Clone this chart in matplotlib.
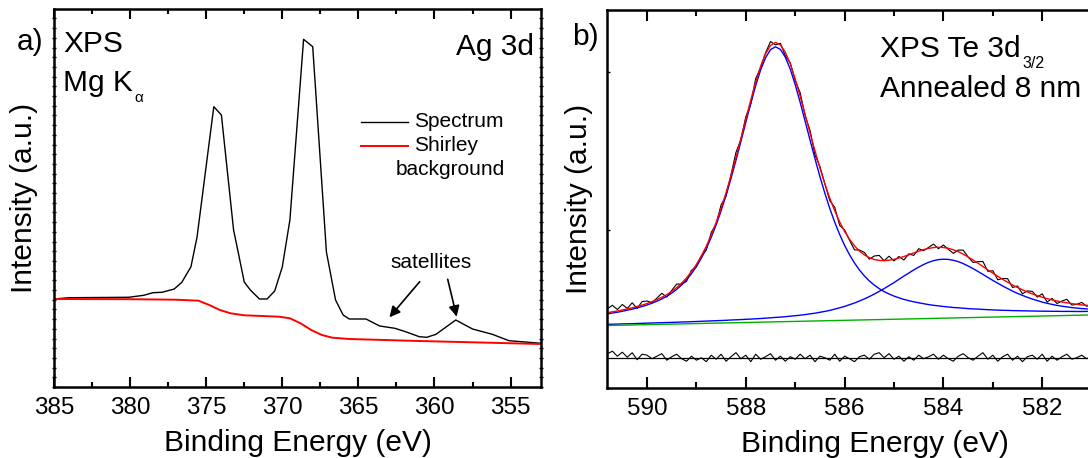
import numpy as np
import matplotlib
matplotlib.use('Agg')
import matplotlib.pyplot as plt
from matplotlib.ticker import MultipleLocator, NullFormatter
from matplotlib.lines import Line2D

plt.rcParams['font.family'] = ['Liberation Sans', 'DejaVu Sans']

# ---------------- Panel a: Ag 3d ----------------
ag_energy = [385.0, 384.0, 380.1, 379.1, 378.5, 377.9, 377.1, 376.6, 376.0, 375.6,
             374.5, 374.0, 373.2, 372.9, 372.5, 372.1, 371.5, 371.0, 370.5, 370.0,
             369.5, 368.6, 368.0, 367.1, 366.5, 366.0, 365.6, 364.5, 363.6, 362.6,
             361.9, 361.0, 360.5, 359.9, 358.6, 357.5, 356.2, 355.1, 353.0]
ag_counts = [88.0, 89.3, 89.7, 91.7, 94.3, 94.7, 98.0, 104.7, 120.3, 150.0,
             280.3, 272.0, 157.0, 135.0, 105.0, 97.0, 88.0, 88.0, 96.0, 120.0,
             167.0, 347.7, 340.3, 135.0, 87.0, 72.0, 68.0, 68.0, 61.0, 58.7,
             55.3, 50.3, 49.7, 52.7, 67.0, 58.0, 52.7, 46.3, 43.7]
shirley_energy = [385.0, 380.0, 377.0, 375.5, 374.8, 374.1, 373.4, 372.5, 370.2,
                  369.5, 368.8, 368.1, 367.4, 366.7, 365.6, 361.0, 353.0]
shirley_counts = [88.0, 87.8, 87.3, 86.3, 82.0, 77.0, 73.7, 71.7, 70.3,
                  68.7, 63.7, 57.0, 52.0, 49.3, 48.0, 46.0, 43.0]

# ---------------- Panel b: Te 3d3/2 ----------------
te_start, te_step, te_n = 590.8, 0.1, 104
te_background = [
    62.5, 62.6, 62.7, 62.8, 62.9, 63.0, 63.1, 63.3, 63.4, 63.5,
    63.6, 63.7, 63.8, 63.9, 64.0, 64.1, 64.2, 64.3, 64.4, 64.5,
    64.7, 64.8, 64.9, 65.0, 65.1, 65.2, 65.3, 65.4, 65.5, 65.6,
    65.7, 65.8, 65.9, 66.1, 66.2, 66.3, 66.4, 66.5, 66.6, 66.7,
    66.8, 66.9, 67.0, 67.1, 67.2, 67.3, 67.5, 67.6, 67.7, 67.8,
    67.9, 68.0, 68.1, 68.2, 68.3, 68.4, 68.5, 68.6, 68.7, 68.9,
    69.0, 69.1, 69.2, 69.3, 69.4, 69.5, 69.6, 69.7, 69.8, 69.9,
    70.0, 70.2, 70.3, 70.4, 70.5, 70.6, 70.7, 70.8, 70.9, 71.0,
    71.1, 71.2, 71.3, 71.4, 71.6, 71.7, 71.8, 71.9, 72.0, 72.1,
    72.2, 72.3, 72.4, 72.5, 72.6, 72.7, 72.8, 73.0, 73.1, 73.2,
    73.3, 73.4, 73.5, 73.6]
te_peak1 = [
    11.7, 12.4, 13.1, 13.9, 14.9, 15.9, 17.0, 18.2, 19.6, 21.3,
    23.2, 25.4, 27.9, 31.0, 34.6, 38.9, 44.0, 50.0, 57.1, 65.4,
    74.9, 85.9, 98.3, 112.2, 127.6, 144.3, 162.3, 181.0, 200.1, 219.0,
    236.7, 252.3, 264.4, 272.3, 275.0,
    272.3, 264.4, 252.3, 236.7, 219.0, 200.1, 181.0, 162.3, 144.3, 127.6,
    112.2, 98.3, 85.9, 74.9, 65.4, 57.1, 50.0, 44.0, 38.9, 34.6,
    31.0, 27.9, 25.4, 23.2, 21.3, 19.6, 18.2, 17.0, 15.9, 14.9,
    13.9, 13.1, 12.4, 11.7, 11.1, 10.5, 10.0, 9.5, 9.0, 8.6,
    8.3, 7.9, 7.5, 7.2, 6.9, 6.6, 6.4, 6.1, 5.9, 5.6,
    5.4, 5.2, 5.0, 4.8, 4.7, 4.5, 4.4, 4.2, 4.1, 4.0,
    3.8, 3.7, 3.6, 3.5, 3.4, 3.3, 3.2, 3.1, 3.0]
te_peak2 = [
    1.2, 1.2, 1.2, 1.3, 1.3, 1.3, 1.4, 1.4, 1.5, 1.5,
    1.6, 1.6, 1.7, 1.7, 1.8, 1.9, 1.9, 2.0, 2.1, 2.2,
    2.2, 2.3, 2.4, 2.5, 2.6, 2.8, 2.9, 3.0, 3.2, 3.3,
    3.5, 3.7, 3.9, 4.1, 4.4, 4.6, 4.9, 5.3, 5.7, 6.1,
    6.6, 7.2, 7.8, 8.6, 9.4, 10.3, 11.4, 12.6, 13.9, 15.5,
    17.1, 19.0, 21.0, 23.2, 25.6, 28.2, 30.9, 33.8, 36.7, 39.8,
    42.9, 45.9, 48.9, 51.6, 54.1, 56.2, 57.7, 58.7, 59.0,
    58.7, 57.7, 56.2, 54.1, 51.6, 48.9, 45.9, 42.9, 39.8, 36.7,
    33.8, 30.9, 28.2, 25.6, 23.2, 21.0, 19.0, 17.1, 15.5, 13.9,
    12.6, 11.4, 10.3, 9.4, 8.6, 7.8, 7.2, 6.6, 6.1, 5.7,
    5.3, 4.9, 4.6, 4.4, 4.1]
te_residual = [
    4.0, 6.5, 1.5, 5.5, 0.5, 5.0, -2.0, 3.5, 2.5, -1.0,
    1.5, 4.0, -2.5, 1.0, 3.5, -1.0, -3.5, 1.5, -2.5, 0.0,
    -4.0, 2.5, -1.5, 3.5, -3.5, 1.0, 5.0, -1.0, 2.5, -4.0,
    3.5, -1.5, 1.0, 4.0, -2.5, 1.5, -3.5, 1.0, -1.5, 3.5,
    -1.0, 2.5, -4.0, 1.5, 0.0, -2.5, 3.5, -3.5, 1.5, -1.0,
    -4.0, 1.0, 2.5, -1.5, 3.5, 5.0, 0.0, 4.0, -1.5, 1.5,
    -3.5, 1.0, -2.5, 2.5, -1.0, 1.0, 3.5, -1.5, 2.5, -1.0,
    -3.5, 1.5, 4.0, 0.0, -2.5, 1.5, 5.0, -1.5, 2.5, -3.5,
    1.0, 3.5, -2.5, 1.5, -4.0, 1.0, 2.5, -1.5, 3.5, -3.5,
    1.5, -2.5, 1.0, 3.5, -1.5, 0.0, 2.5, -1.0, 1.5, -1.5,
    2.5, 0.0, 3.5, 1.5]
te_residual_offset = 30.3

te_energy = np.round(te_start - te_step * np.arange(te_n), 2)
bg = np.array(te_background)
p1 = np.array(te_peak1)
p2 = np.array(te_peak2)
res = np.array(te_residual)
comp1 = bg + p1
comp2 = bg + p2
fit = bg + p1 + p2
spectrum = fit + res
res_curve = te_residual_offset + res

# ---------------- figure ----------------
W, H = 1088, 458
fig = plt.figure(figsize=(W / 100, H / 100), dpi=100)

def px_axes(x0, y0, x1, y1):
    return fig.add_axes([x0 / W, 1 - y1 / H, (x1 - x0) / W, (y1 - y0) / H])

FS_LABEL = 21.5
FS_TICK = 17.5
FS_LEG = 15

# Panel a
axa = px_axes(54, 9, 541, 387)
axa.plot(ag_energy, ag_counts, color='black', lw=1.0)
axa.plot(shirley_energy, shirley_counts, color='#ff0000', lw=1.4)
axa.set_xlim(385, 353)
axa.set_ylim(0, 378)
axa.xaxis.set_major_locator(MultipleLocator(5))
axa.xaxis.set_minor_locator(MultipleLocator(2.5))
axa.yaxis.set_major_locator(MultipleLocator(9.7))
axa.yaxis.set_major_formatter(NullFormatter())
axa.tick_params(axis='x', which='major', direction='in', length=7.5, width=1.5,
                top=True, labelsize=FS_TICK, pad=7)
axa.tick_params(axis='x', which='minor', direction='in', length=3.8, width=1.5, top=True)
axa.tick_params(axis='y', which='major', direction='inout', length=3.5, width=1.0,
                left=True, right=True)
for s in axa.spines.values():
    s.set_linewidth(1.8)
axa.set_xlabel('Binding Energy (eV)', fontsize=FS_LABEL)
axa.set_ylabel('Intensity (a.u.)', fontsize=FS_LABEL)
axa.xaxis.set_label_coords(0.5, -0.112)
axa.yaxis.set_label_coords(-0.032, 0.5)

# legend drawn manually
axa.add_line(Line2D([0.6296, 0.7267], [0.7019, 0.7019], transform=axa.transAxes,
                    color='black', lw=1.0))
axa.add_line(Line2D([0.6296, 0.7267], [0.6384, 0.6384], transform=axa.transAxes,
                    color='#ff0000', lw=1.4))
axa.text(0.7397, 0.7019, 'Spectrum', transform=axa.transAxes, fontsize=FS_LEG,
         va='center', ha='left')
axa.text(0.7397, 0.6384, 'Shirley', transform=axa.transAxes, fontsize=FS_LEG,
         va='center', ha='left')
axa.text(0.7016, 0.575, 'background', transform=axa.transAxes, fontsize=FS_LEG,
         va='center', ha='left')

axa.text(360.2, 119, 'satellites', fontsize=FS_LEG, ha='center', va='baseline')
arrow = dict(arrowstyle='-|>', color='black', lw=1.2, mutation_scale=16,
             shrinkA=0, shrinkB=0)
axa.annotate('', xy=(362.96, 69.7), xytext=(360.97, 105.3), arrowprops=arrow)
axa.annotate('', xy=(358.54, 70.3), xytext=(359.13, 107.7), arrowprops=arrow)

def ftext(x, y, s, **kw):
    fig.text(x / W, 1 - y / H, s, **kw)

ftext(17, 50, 'a)', fontsize=FS_LABEL, va='baseline', ha='left')
ftext(63, 52, 'XPS', fontsize=FS_LABEL, va='baseline', ha='left')
ftext(63, 91, 'Mg K', fontsize=FS_LABEL, va='baseline', ha='left')
ftext(134, 102, 'α', fontsize=11, va='baseline', ha='left')
ftext(534, 55, 'Ag 3d', fontsize=FS_LABEL, va='baseline', ha='right')

# Panel b
x_left_b = 607
px_per_ev = 49.4
b_xmin, b_xmax = 590.81, 580.5
axb = px_axes(x_left_b, 10, x_left_b + (b_xmin - b_xmax) * px_per_ev, 388)
axb.plot(te_energy, spectrum, color='black', lw=0.8)
axb.plot(te_energy, comp1, color='#0000ff', lw=1.0)
axb.plot(te_energy, comp2, color='#0000ff', lw=1.0)
axb.plot([te_energy[0], te_energy[-1]], [te_background[0], te_background[-1]],
         color='#00b000', lw=1.0)
axb.plot(te_energy, fit, color='#ff0000', lw=1.0)
axb.plot(te_energy, res_curve, color='black', lw=0.8)
axb.axhline(te_residual_offset, color='black', lw=0.9)
axb.set_xlim(b_xmin, b_xmax)
axb.set_ylim(0, 378)
axb.xaxis.set_major_locator(MultipleLocator(2))
axb.xaxis.set_minor_locator(MultipleLocator(1))
axb.yaxis.set_major_locator(MultipleLocator(158))
axb.yaxis.set_major_formatter(NullFormatter())
axb.tick_params(axis='x', which='major', direction='in', length=8, width=1.5,
                top=True, labelsize=FS_TICK, pad=7)
axb.tick_params(axis='x', which='minor', direction='in', length=4, width=1.5, top=True)
axb.tick_params(axis='y', which='major', direction='in', length=2.5, width=1.0,
                left=True, right=False)
for s in axb.spines.values():
    s.set_linewidth(1.8)
axb.set_xlabel('Binding Energy (eV)', fontsize=FS_LABEL)
axb.set_ylabel('Intensity (a.u.)', fontsize=FS_LABEL)
axb.xaxis.set_label_coords((875 - x_left_b) / ((b_xmin - b_xmax) * px_per_ev), -0.111)
axb.yaxis.set_label_coords(-0.0275, 0.5)

ftext(572, 45, 'b)', fontsize=FS_LABEL, va='baseline', ha='left')
ftext(880, 57, 'XPS Te 3d', fontsize=FS_LABEL, va='baseline', ha='left')
ftext(1022, 68, '3/2', fontsize=11.5, va='baseline', ha='left')
ftext(880, 97, 'Annealed 8 nm', fontsize=FS_LABEL, va='baseline', ha='left')

fig.savefig('out.png', dpi=100)
